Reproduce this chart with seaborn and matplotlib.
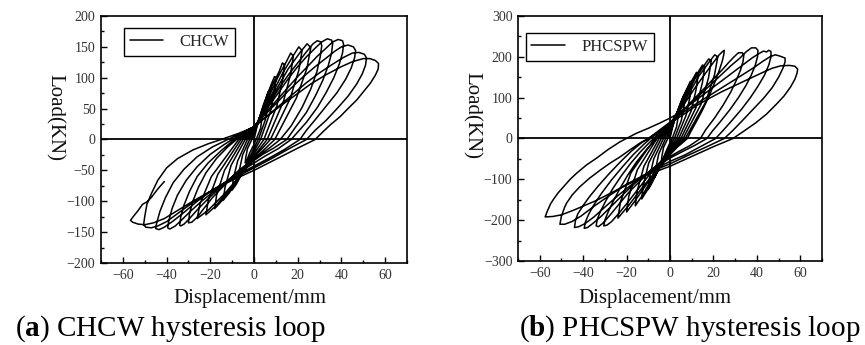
import matplotlib
matplotlib.use("Agg")
import matplotlib.pyplot as plt
import pandas as pd
import seaborn as sns
from matplotlib.ticker import MultipleLocator

sns.set_style("ticks")
plt.rcParams["font.family"] = ["Liberation Serif", "DejaVu Serif"]
plt.rcParams["mathtext.fontset"] = "custom"
plt.rcParams["mathtext.rm"] = "Liberation Serif"
plt.rcParams["mathtext.bf"] = "Liberation Serif:bold"
plt.rcParams["axes.unicode_minus"] = True

# ---- CHCW specimen: displacement (mm) / load (kN), recorded path cycle by cycle ----
chcw_disp = [
    0,
    1.2, 2.4, 3.3, 3.8, 4, 3.7, 3, 1, 0, -2, -3.2, -4, -3.8, -3, -1, 0,
    2, 4.2, 5.8, 6.6, 7, 6.5, 5.2, 2, 0, -3.5, -5.6, -7, -6.6, -5.2, -2, 0,
    3, 6, 8.2, 9.4, 10, 9.3, 7.5, 3, 0, -5, -8, -10, -9.5, -7.5, -3, 0,
    4.2, 8.4, 11.5, 13, 14, 13, 10.5, 4.5, 0, -7, -11.2, -14, -13.3, -10.5, -4, 0,
    5.4, 10.8, 14.8, 16.8, 18, 16.7, 13.5, 6, 0, -9, -14.4, -18, -17.1, -13.5, -5, 0,
    6.6, 13.2, 18, 20.5, 22, 20.5, 16.5, 7.5, 0, -11, -17.6, -22, -20.9, -16.5, -6, 0,
    7.8, 15.6, 21.3, 24.3, 26, 24.2, 19.5, 9.5, 0, -13, -20.8, -26, -24.7, -19.5, -7, 0,
    4, 8, 12, 16, 20, 24, 27, 29, 30.5, 31, 30.3, 28.8, 26, 22, 17, 12, 7, 3, 0,
    -7, -13, -19, -23, -26, -28.5, -30, -29.5, -28, -25.5, -22, -17, -12, -8, -4, 0,
    4, 8, 12, 16, 20, 24, 28, 31, 33.5, 35.5, 36, 35.5, 34, 31.5, 28, 24, 19, 15, 9, 4,
    0, -8, -15, -21, -26, -29.5, -32, -33.5, -34, -33.5, -32, -29.5, -26, -21, -15, -9, -4, 0,
    5, 10, 15, 20, 25, 29, 33, 36, 38.5, 40.5, 41, 40.5, 39, 36.5, 33, 29, 24, 20, 17, 11,
    5, 0, -9, -17, -24, -29, -33, -36, -38.5, -39.5, -39, -37.5, -35, -31, -26, -20, -14, -10, -5, 0,
    5, 10, 16, 22, 28, 33, 37, 40, 43, 45.5, 46.5, 46, 44.5, 42, 38, 33, 28, 24, 21, 14,
    7, 0, -10, -19, -26, -32, -37, -41, -43.5, -45, -44.5, -43, -40.5, -37, -32, -26, -19, -12, -6, 0,
    6, 12, 18, 24, 30, 36, 41, 45, 48, 50.5, 51.5, 51, 49.5, 47, 43, 38, 33, 28, 24, 16,
    8, 0, -10, -20, -28, -35, -40, -44, -47, -49.5, -50.5, -50, -49, -47, -44, -40, -35, -28, -21, -15,
    -7, 0,
    6, 12, 19, 26, 33, 40, 45, 50, 53, 55.5, 57, 56.8, 55.5, 53.2, 50, 47, 43, 39.4, 35, 31.7,
    28, 20, 10, 0, -10, -20, -28, -35, -41, -46, -50, -53, -55.5, -56.5,
    -55.5, -53, -51, -49, -47, -44, -41,
]
chcw_load = [
    0,
    18, 33, 43, 48, 47, 35, 18, 0, -8, -22, -33, -38, -30, -15, 0, 8,
    30, 55, 70, 78, 76, 58, 32, 0, -14, -40, -55, -62, -48, -25, 0, 11,
    40, 72, 92, 102, 100, 78, 45, 0, -19, -52, -72, -82, -64, -35, 0, 13,
    50, 88, 110, 124, 121, 95, 55, 0, -23, -62, -86, -98, -78, -42, 0, 15,
    58, 100, 126, 140, 135, 105, 62, 0, -27, -72, -98, -112, -90, -50, 0, 16,
    62, 108, 136, 150, 144, 112, 66, 0, -29, -80, -108, -122, -98, -56, 0, 18,
    66, 114, 142, 155, 149, 115, 68, 0, -32, -86, -114, -128, -104, -60, 0, 19,
    42, 64, 86, 106, 124, 142, 155, 160, 158, 152, 134, 110, 82, 52, 22, 0, -14, -24, -31,
    -50, -72, -94, -112, -126, -134, -135, -120, -100, -78, -54, -30, -12, 0, 9, 19,
    40, 60, 80, 100, 118, 134, 148, 158, 163, 161, 156, 140, 120, 96, 70, 44, 20, 0, -14, -24,
    -34, -54, -76, -96, -114, -128, -137, -140, -139, -125, -106, -84, -60, -38, -18, 0, 10, 20,
    42, 62, 82, 102, 120, 135, 148, 158, 162, 160, 154, 140, 122, 100, 76, 52, 28, 12, 0, -15,
    -27, -38, -58, -80, -100, -116, -130, -140, -145, -143, -132, -112, -90, -66, -44, -24, -9, 0, 10, 21,
    40, 58, 80, 100, 118, 132, 143, 150, 153, 150, 144, 132, 116, 98, 76, 54, 32, 15, 0, -16,
    -30, -43, -62, -82, -100, -118, -132, -142, -146, -144, -135, -116, -94, -70, -48, -28, -12, 0, 10, 21,
    38, 56, 74, 92, 108, 122, 133, 140, 141, 138, 132, 120, 106, 90, 70, 50, 31, 15, 0, -15,
    -31, -46, -64, -84, -102, -120, -133, -140, -143, -142, -138, -125, -105, -88, -66, -46, -31, -17, -7, 0,
    10, 20,
    38, 54, 72, 90, 105, 118, 126, 131, 131, 128, 123, 114, 104, 91, 77, 64, 50, 37, 24, 13,
    0, -14, -32, -50, -66, -84, -100, -115, -128, -135, -138, -137, -134, -131,
    -126, -115, -105, -101, -94, -80, -68,
]

# ---- PHCSPW specimen ----
phcspw_disp = [
    0,
    1.2, 2.4, 3.3, 3.8, 4, 3.7, 3, 1, 0, -2, -3.2, -4, -3.8, -3, -1, 0,
    2.1, 4.2, 5.7, 6.6, 7, 6.5, 5.2, 2, 0, -3.5, -5.6, -7, -6.6, -5.2, -2, 0,
    3, 6, 8.2, 9.4, 10, 9.3, 7.5, 3, 0, -5, -8, -10, -9.5, -7.5, -3, 0,
    3.9, 7.8, 10.7, 12.2, 13, 12.1, 9.8, 4, 0, -6.5, -10.4, -13, -12.4, -9.8, -4, 0,
    4.8, 9.6, 13.1, 15, 16, 14.9, 12, 5, 0, -8, -12.8, -16, -15.2, -12, -5, 0,
    5.7, 11.4, 15.6, 17.8, 19, 17.7, 14.3, 6, 0, -10, -16, -20, -19, -15, -6, 0,
    6.6, 13.2, 18, 20.6, 22, 20.5, 16.5, 7, 0, -12, -19.2, -24, -22.8, -18, -7, 0,
    3, 6, 9, 12, 15, 18, 20.5, 22.5, 24, 25, 24.8, 24, 22.5, 20.5, 18, 15, 12, 9.5, 8, 5,
    2, 0, -5, -10, -15, -20, -24, -27, -29, -30.5, -30, -28.5, -26, -23, -19.5, -15.5, -11, -7.5, -6, -3,
    0,
    4, 8, 12, 16, 20, 24, 27, 29.5, 31.5, 33.3, 34, 33.6, 32.5, 30.5, 28, 24.5, 20.5, 16.5, 14, 9,
    4, 0, -7, -13, -19, -24, -28, -31, -33, -34, -33.5, -32, -29.5, -26.5, -22.5, -18, -13.5, -9.5, -7.5, -3.5,
    0,
    4, 8, 12, 16, 20, 24, 28, 32, 35, 37.5, 39.5, 40.5, 40.3, 39.3, 37.5, 35, 31.5, 27.5, 23, 19.5,
    17, 11, 5, 0, -8, -15, -21, -27, -32, -35.5, -38, -39.5, -39, -37.5, -35, -31.5, -27, -22, -17, -12,
    -9, -4, 0,
    5, 10, 15, 20, 25, 30, 34, 38, 41, 43, 44.5, 45.5, 46.5, 46.5, 45.5, 43.5, 40.5, 37, 33, 28.5,
    24.5, 21, 14, 7, 0, -9, -17, -24, -30, -35, -39, -42, -44, -43.5, -42.5, -40, -37, -33, -28, -23,
    -18, -13, -10, -5, 0,
    5, 10, 16, 22, 28, 34, 39, 43, 46, 48.5, 50.5, 51.5, 53, 53, 52, 50, 47, 43, 38, 33,
    29, 25, 17, 8, 0, -10, -20, -28, -35, -41, -45, -48.5, -50.7, -50, -48.5, -47.6, -45, -41.5, -37, -32,
    -27.5, -23, -18.5, -13.8, -10, -6, -3, 0,
    6, 12, 18, 24, 30, 36, 42, 47, 51, 55, 57.5, 58.8, 58.5, 57.5, 55.5, 52.5, 49, 44.5, 39.4, 34,
    29, 20, 10, 0, -11, -23, -34, -44.6, -50, -54, -57.5, -56.5, -55, -53.8, -51.5, -49, -46, -43, -38.5, -33.8,
    -28.5, -23, -19, -15.4, -10, -4.6, 0, 4,
]
phcspw_load = [
    0,
    28, 50, 64, 70, 68, 52, 28, 0, -10, -34, -50, -60, -46, -22, 0, 10,
    45, 78, 98, 108, 105, 80, 44, 0, -16, -55, -80, -95, -74, -38, 0, 16,
    60, 102, 127, 140, 137, 105, 58, 0, -22, -72, -106, -125, -98, -50, 0, 22,
    72, 120, 148, 162, 158, 122, 68, 0, -27, -86, -126, -148, -116, -60, 0, 27,
    80, 134, 164, 180, 176, 136, 76, 0, -31, -96, -140, -165, -130, -68, 0, 31,
    86, 145, 178, 195, 190, 148, 84, 0, -35, -106, -152, -180, -142, -76, 0, 35,
    90, 152, 187, 205, 200, 156, 90, 0, -40, -115, -165, -195, -155, -84, 0, 38,
    56, 80, 104, 128, 150, 172, 190, 204, 212, 216, 206, 188, 164, 136, 104, 70, 40, 16, 0, -14,
    -26, -34, -60, -92, -126, -160, -186, -204, -212, -214, -200, -180, -152, -122, -90, -58, -28, -8, 0, 14,
    32,
    58, 80, 102, 124, 146, 168, 186, 200, 210, 210, 204, 188, 168, 142, 114, 82, 50, 22, 0, -18,
    -32, -44, -70, -100, -132, -164, -190, -208, -216, -214, -198, -178, -152, -124, -92, -60, -32, -10, 0, 18,
    34,
    58, 78, 98, 118, 138, 158, 178, 196, 212, 222, 222, 216, 200, 180, 156, 130, 100, 70, 40, 18,
    0, -18, -34, -48, -74, -104, -134, -166, -192, -208, -218, -220, -205, -186, -162, -134, -102, -70, -40, -14,
    0, 20, 37,
    66, 86, 106, 126, 146, 166, 182, 198, 208, 214, 212, 216, 213, 200, 180, 155, 128, 100, 72, 44,
    20, 0, -20, -40, -56, -80, -110, -140, -168, -192, -208, -216, -218, -200, -185, -164, -142, -116, -86, -58,
    -32, -10, 0, 20, 40,
    60, 78, 98, 118, 138, 158, 175, 190, 200, 205, 202, 200, 197, 188, 172, 150, 124, 98, 70, 42,
    20, 0, -20, -42, -62, -84, -112, -140, -166, -190, -203, -210, -210, -190, -168, -158, -138, -118, -97, -77,
    -60, -45, -28, -11, 0, 13, 25, 38,
    58, 80, 98, 115, 130, 145, 160, 172, 178, 179, 177, 170, 160, 145, 126, 104, 84, 60, 38, 18,
    0, -20, -44, -68, -90, -122, -152, -176, -187, -191, -192, -178, -160, -150, -133, -118, -100, -85, -65, -48,
    -27, -8, 3, 13, 25, 38, 50, 62,
]

panels = [
    dict(name="CHCW", disp=chcw_disp, load=chcw_load, ylim=(-200, 200),
         ymajor=50, yminor=25, rect=[101 / 865, 1 - 263 / 345, 306 / 865, 247 / 345],
         legend_anchor=(0.075, 0.95), ylab_xy=(55, 117), xlab_xy=(250, 303),
         caption=r"($\mathbf{a}$) CHCW hysteresis loop", cap_x=15, cap_ha="left"),
    dict(name="PHCSPW", disp=phcspw_disp, load=phcspw_load, ylim=(-300, 300),
         ymajor=100, yminor=50, rect=[518 / 865, 1 - 261 / 345, 304 / 865, 245 / 345],
         legend_anchor=(0.025, 0.93), ylab_xy=(472, 116), xlab_xy=(655, 303),
         caption=r"($\mathbf{b}$) PHCSPW hysteresis loop", cap_x=860, cap_ha="right"),
]

W, H = 865, 345
fig = plt.figure(figsize=(W / 100, H / 100), dpi=100)

for p in panels:
    ax = fig.add_axes(p["rect"])
    df = pd.DataFrame({"Displacement": p["disp"], "Load": p["load"]})
    ax.axhline(0, color="black", lw=1.3, zorder=1)
    ax.axvline(0, color="black", lw=1.3, zorder=1)
    sns.lineplot(data=df, x="Displacement", y="Load", sort=False, estimator=None,
                 color="black", linewidth=1.1, ax=ax, label=p["name"], zorder=2)
    ax.set_xlim(-70, 70)
    ax.set_ylim(*p["ylim"])
    ax.xaxis.set_major_locator(MultipleLocator(20))
    ax.xaxis.set_minor_locator(MultipleLocator(10))
    ax.yaxis.set_major_locator(MultipleLocator(p["ymajor"]))
    ax.yaxis.set_minor_locator(MultipleLocator(p["yminor"]))
    ax.tick_params(which="both", direction="in", top=False, right=False,
                   labelsize=10, labelcolor="#333333", color="black", width=1.0)
    ax.tick_params(which="major", length=4, pad=4)
    ax.tick_params(which="minor", length=2.5)
    for s in ax.spines.values():
        s.set_linewidth(1.2)
        s.set_color("black")
    ax.set_xlabel("")
    ax.set_ylabel("")
    leg = ax.legend(loc="upper left", bbox_to_anchor=p["legend_anchor"], fontsize=12,
                    frameon=True, fancybox=False, edgecolor="black", framealpha=1,
                    handlelength=2.0, handletextpad=1.0, borderpad=0.35,
                    borderaxespad=0)
    leg.get_frame().set_linewidth(1.0)

    fig.text(p["ylab_xy"][0] / W, 1 - p["ylab_xy"][1] / H, "Load(KN)", rotation=-90,
             ha="center", va="center", fontsize=15, color="#111111")
    fig.text(p["xlab_xy"][0] / W, 1 - p["xlab_xy"][1] / H, "Displacement/mm",
             ha="center", va="baseline", fontsize=15, color="#111111")
    fig.text(p["cap_x"] / W, 1 - 336 / H, p["caption"], ha=p["cap_ha"],
             va="baseline", fontsize=21, color="black")

fig.savefig("out.png", dpi=100, facecolor="white")
